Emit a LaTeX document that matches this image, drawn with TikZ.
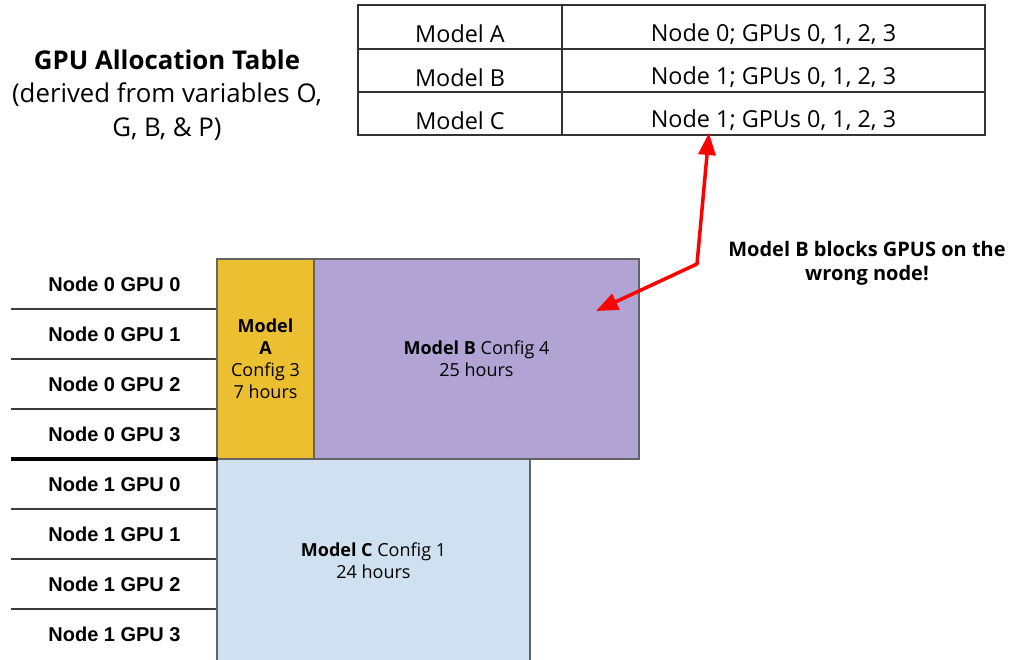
\documentclass[tikz,border=0pt]{standalone}
\usepackage{fontspec}
\setmainfont{Open Sans}
\newfontfamily\arialfont{Liberation Sans}
\usetikzlibrary{arrows.meta}
\definecolor{cA}{RGB}{236,191,48}
\definecolor{cB}{RGB}{177,164,212}
\definecolor{cC}{RGB}{207,225,240}
\definecolor{bordergray}{RGB}{100,100,100}
\definecolor{linegray}{RGB}{60,60,60}
\definecolor{arrowred}{RGB}{255,0,0}
\tikzset{
  cell/.style={draw=black!80, line width=1.2pt, rectangle, inner sep=0pt, outer sep=0pt, anchor=north west},
  celltext/.style={font=\fontsize{23.4}{27}\selectfont, inner sep=0pt},
  gpurow/.style={rectangle, inner sep=0pt, outer sep=0pt, minimum width=207pt, minimum height=50pt, font=\arialfont\bfseries\fontsize{20}{22}\selectfont},
  rowline/.style={draw=linegray, line width=1.3pt},
  sepline/.style={draw=black, line width=4pt},
  job/.style={draw=bordergray, line width=1.3pt, rectangle, inner sep=0pt, outer sep=0pt, anchor=north west, align=center, font=\fontsize{18}{22}\selectfont},
  redarrow/.style={draw=arrowred, line width=3.5pt, line join=round, {Triangle[length=22pt,width=17pt]}-{Triangle[length=22pt,width=17pt]}}
}
\begin{document}
\begin{tikzpicture}[x=1pt,y=-1pt]
\useasboundingbox (0,0) rectangle (1010,660);
% title
\node[align=center, inner sep=0pt, font=\fontsize{25.8}{33.5}\selectfont] (title) at (167,95)
  {\textbf{GPU Allocation Table}\\(derived from variables O,\\G, B, \& P)};
% table
\node[cell, minimum width=204pt, minimum height=44pt] (a1) at (358,5) {};
\node[cell, minimum width=423pt, minimum height=44pt] (a2) at (562,5) {};
\node[cell, minimum width=204pt, minimum height=43pt] (b1) at (358,49) {};
\node[cell, minimum width=423pt, minimum height=43pt] (b2) at (562,49) {};
\node[cell, minimum width=204pt, minimum height=43pt] (c1) at (358,92) {};
\node[cell, minimum width=423pt, minimum height=43pt] (c2) at (562,92) {};
\node[celltext] (ta1) at ([yshift=-7pt]a1.center) {Model A};
\node[celltext] (ta2) at ([yshift=-7pt]a2.center) {Node 0; GPUs 0, 1, 2, 3};
\node[celltext] (tb1) at ([yshift=-7pt]b1.center) {Model B};
\node[celltext] (tb2) at ([yshift=-7pt]b2.center) {Node 1; GPUs 0, 1, 2, 3};
\node[celltext] (tc1) at ([yshift=-7pt]c1.center) {Model C};
\node[celltext] (tc2) at ([yshift=-7pt]c2.center) {Node 1; GPUs 0, 1, 2, 3};
% GPU rows
\node[gpurow] (g0) at (114.5,284) {Node 0 GPU 0};
\node[gpurow] (g1) at (114.5,334) {Node 0 GPU 1};
\node[gpurow] (g2) at (114.5,384) {Node 0 GPU 2};
\node[gpurow] (g3) at (114.5,434) {Node 0 GPU 3};
\node[gpurow] (g4) at (114.5,484) {Node 1 GPU 0};
\node[gpurow] (g5) at (114.5,534) {Node 1 GPU 1};
\node[gpurow] (g6) at (114.5,584) {Node 1 GPU 2};
\node[gpurow] (g7) at (114.5,634) {Node 1 GPU 3};
\draw[rowline] (g0.south west) -- (g0.south east);
\draw[rowline] (g1.south west) -- (g1.south east);
\draw[rowline] (g2.south west) -- (g2.south east);
\draw[rowline] (g4.south west) -- (g4.south east);
\draw[rowline] (g5.south west) -- (g5.south east);
\draw[rowline] (g6.south west) -- (g6.south east);
% jobs
\node[job, fill=cA, minimum width=97pt, minimum height=200pt] (ma) at (217,259)
  {\textbf{Model}\\\textbf{A}\\Config 3\\7 hours};
\node[job, fill=cB, minimum width=325pt, minimum height=200pt] (mb) at (314,259)
  {\textbf{Model B} Config 4\\25 hours};
\node[job, fill=cC, minimum width=313pt, minimum height=203pt] (mc) at (217,459)
  {\textbf{Model C} Config 1\\24 hours};
\draw[sepline] (g3.south west) -- (g3.south east);
% annotation
\node[align=center, inner sep=0pt, font=\bfseries\fontsize{20}{24}\selectfont] (note) at (867,263)
  {Model B blocks GPUS on the\\wrong node!};
\coordinate (bend) at (697,264);
\coordinate (tiptop) at (709,133);
\coordinate (tipbox) at (596,311);
\draw[redarrow] (tiptop) -- (bend) -- (tipbox);
\end{tikzpicture}
\end{document}
